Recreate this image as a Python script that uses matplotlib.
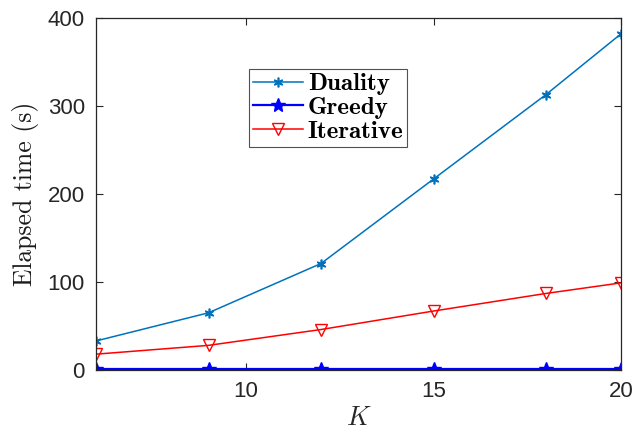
import matplotlib
matplotlib.use("Agg")
import matplotlib.pyplot as plt

K = [6, 9, 12, 15, 18, 20]
duality = [33, 65, 121, 217, 313, 382]
greedy = [0.8, 0.8, 0.8, 0.8, 0.8, 0.8]
iterative = [18, 28, 46, 67, 87, 99]

plt.rcParams['mathtext.fontset'] = 'cm'
fig = plt.figure(figsize=(6.35, 4.32), dpi=100)
ax = fig.add_axes([96/635, 62/432, 525/635, 352/432])

ax.plot(K, duality, color='#0072BD', lw=1.1, marker=(6, 2, 0), ms=7, mew=1.2, label='Duality')
ax.plot(K, greedy, color='#0000FF', lw=1.6, marker='*', ms=10, mfc='#0000FF', mec='#0000FF', label='Greedy')
ax.plot(K, iterative, color='#FF0000', lw=1.1, marker='v', ms=8, mfc='none', mec='#FF0000', mew=1.0, label='Iterative')

ax.set_xlim(6, 20)
ax.set_ylim(0, 400)
ax.set_xticks([10, 15, 20])
ax.set_yticks([0, 100, 200, 300, 400])
gray = '#262626'
for s in ax.spines.values():
    s.set_color(gray)
    s.set_linewidth(0.9)
ax.tick_params(direction='in', top=True, right=True, length=5, width=0.8, colors=gray,
               labelsize=16, pad=8)
for lab in ax.get_xticklabels() + ax.get_yticklabels():
    lab.set_family('Liberation Sans')

ax.set_xlabel('$K$', fontsize=19, color=gray, labelpad=2)
ax.set_ylabel('Elapsed time (s)', fontsize=18.5, family='cmr10', color='#1a1a1a', labelpad=6)

leg = ax.legend(loc='upper left', bbox_to_anchor=(249/635, 1 - 69/432), bbox_transform=fig.transFigure,
                prop={'family': 'cmb10', 'size': 18}, frameon=True, fancybox=False,
                edgecolor=gray, handlelength=2.0, borderpad=0.15, labelspacing=0.05, handletextpad=0.2,
                borderaxespad=0)
leg.get_frame().set_linewidth(0.8)

fig.savefig('out.png', dpi=100)
